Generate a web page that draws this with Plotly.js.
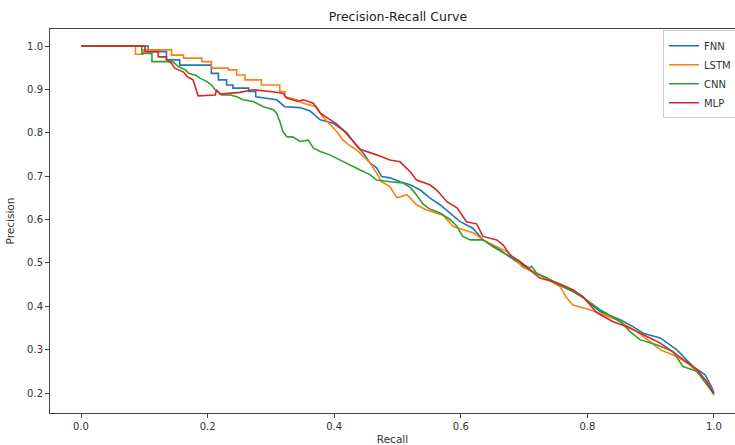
<!DOCTYPE html>
<html>
<head>
<meta charset="utf-8">
<script src="https://cdn.plot.ly/plotly-3.0.1.min.js"></script>
<style>html,body{margin:0;padding:0;background:#fff;}#chart{width:735px;height:445px;}</style>
</head>
<body>
<div id="chart"></div>
<script>
// Series names
const seriesNames = ["FNN", "LSTM", "CNN", "MLP"];

// FNN
const fnnRecall = [0, 0.106, 0.106, 0.135, 0.135, 0.156, 0.156, 0.206, 0.206, 0.217, 0.217, 0.230, 0.230, 0.240, 0.240, 0.265, 0.265, 0.276, 0.276, 0.309, 0.322, 0.346, 0.362, 0.378, 0.398, 0.420, 0.430, 0.446, 0.457, 0.467, 0.475, 0.488, 0.504, 0.520, 0.536, 0.551, 0.567, 0.588, 0.599, 0.619, 0.635, 0.657, 0.688, 0.714, 0.741, 0.773, 0.793, 0.820, 0.852, 0.872, 0.888, 0.915, 0.941, 0.967, 0.986, 0.996, 1.0];
const fnnPrecision = [1.0, 1.0, 0.987, 0.987, 0.968, 0.968, 0.956, 0.956, 0.937, 0.937, 0.922, 0.922, 0.910, 0.910, 0.903, 0.903, 0.895, 0.895, 0.883, 0.876, 0.860, 0.858, 0.850, 0.830, 0.822, 0.800, 0.780, 0.753, 0.730, 0.719, 0.699, 0.696, 0.687, 0.680, 0.668, 0.650, 0.634, 0.607, 0.595, 0.580, 0.553, 0.535, 0.503, 0.480, 0.461, 0.438, 0.420, 0.388, 0.369, 0.353, 0.338, 0.327, 0.300, 0.261, 0.242, 0.215, 0.200];

// LSTM
const lstmRecall = [0, 0.086, 0.086, 0.098, 0.098, 0.143, 0.143, 0.162, 0.162, 0.191, 0.191, 0.206, 0.206, 0.233, 0.233, 0.246, 0.246, 0.259, 0.259, 0.285, 0.285, 0.314, 0.314, 0.322, 0.322, 0.341, 0.351, 0.372, 0.382, 0.393, 0.404, 0.414, 0.425, 0.436, 0.446, 0.457, 0.467, 0.475, 0.488, 0.499, 0.515, 0.530, 0.546, 0.572, 0.578, 0.588, 0.620, 0.635, 0.673, 0.688, 0.698, 0.720, 0.757, 0.767, 0.777, 0.804, 0.846, 0.878, 0.915, 0.941, 0.962, 0.988, 1.0];
const lstmPrecision = [1.0, 1.0, 0.981, 0.981, 0.991, 0.991, 0.979, 0.979, 0.972, 0.972, 0.964, 0.964, 0.949, 0.949, 0.945, 0.945, 0.933, 0.933, 0.922, 0.922, 0.910, 0.910, 0.895, 0.895, 0.883, 0.876, 0.868, 0.860, 0.837, 0.820, 0.803, 0.783, 0.770, 0.760, 0.745, 0.730, 0.707, 0.687, 0.676, 0.650, 0.657, 0.634, 0.622, 0.610, 0.600, 0.584, 0.569, 0.553, 0.526, 0.503, 0.490, 0.476, 0.445, 0.420, 0.403, 0.392, 0.369, 0.342, 0.300, 0.284, 0.265, 0.227, 0.195];

// CNN
const cnnRecall = [0, 0.096, 0.096, 0.112, 0.112, 0.145, 0.154, 0.165, 0.170, 0.182, 0.188, 0.199, 0.206, 0.212, 0.222, 0.236, 0.246, 0.256, 0.272, 0.288, 0.304, 0.309, 0.314, 0.319, 0.325, 0.335, 0.346, 0.359, 0.367, 0.378, 0.393, 0.409, 0.425, 0.441, 0.457, 0.467, 0.488, 0.509, 0.520, 0.530, 0.540, 0.551, 0.567, 0.583, 0.594, 0.603, 0.615, 0.635, 0.651, 0.673, 0.694, 0.709, 0.712, 0.720, 0.736, 0.761, 0.788, 0.820, 0.852, 0.867, 0.883, 0.909, 0.935, 0.951, 0.973, 0.988, 0.996, 1.0];
const cnnPrecision = [1.0, 1.0, 0.983, 0.983, 0.964, 0.964, 0.952, 0.945, 0.937, 0.932, 0.926, 0.918, 0.910, 0.899, 0.887, 0.887, 0.883, 0.876, 0.872, 0.860, 0.853, 0.845, 0.826, 0.803, 0.791, 0.790, 0.780, 0.783, 0.765, 0.757, 0.749, 0.737, 0.726, 0.714, 0.703, 0.691, 0.687, 0.684, 0.674, 0.657, 0.636, 0.624, 0.615, 0.600, 0.584, 0.561, 0.553, 0.553, 0.537, 0.518, 0.500, 0.488, 0.492, 0.476, 0.465, 0.445, 0.426, 0.392, 0.365, 0.342, 0.323, 0.311, 0.296, 0.261, 0.250, 0.219, 0.204, 0.197];

// MLP
const mlpRecall = [0, 0.101, 0.101, 0.122, 0.122, 0.135, 0.135, 0.143, 0.148, 0.162, 0.168, 0.177, 0.185, 0.212, 0.214, 0.220, 0.251, 0.272, 0.299, 0.319, 0.325, 0.343, 0.351, 0.367, 0.378, 0.388, 0.404, 0.415, 0.430, 0.441, 0.467, 0.488, 0.504, 0.520, 0.530, 0.551, 0.562, 0.578, 0.594, 0.609, 0.625, 0.635, 0.657, 0.667, 0.678, 0.694, 0.709, 0.725, 0.752, 0.777, 0.793, 0.815, 0.840, 0.862, 0.899, 0.915, 0.930, 0.951, 0.973, 0.988, 0.999];
const mlpPrecision = [1.0, 1.0, 0.987, 0.987, 0.975, 0.975, 0.970, 0.960, 0.949, 0.940, 0.929, 0.922, 0.885, 0.887, 0.899, 0.889, 0.893, 0.899, 0.895, 0.891, 0.880, 0.872, 0.876, 0.868, 0.845, 0.835, 0.820, 0.805, 0.780, 0.762, 0.749, 0.737, 0.733, 0.710, 0.691, 0.680, 0.668, 0.641, 0.627, 0.595, 0.590, 0.561, 0.553, 0.541, 0.518, 0.503, 0.484, 0.465, 0.454, 0.438, 0.422, 0.385, 0.365, 0.353, 0.327, 0.315, 0.300, 0.277, 0.254, 0.227, 0.200];

const colors = ["#1f77b4", "#ff7f0e", "#2ca02c", "#d62728"];
const xs = [fnnRecall, lstmRecall, cnnRecall, mlpRecall];
const ys = [fnnPrecision, lstmPrecision, cnnPrecision, mlpPrecision];

const xTicks = [0.0, 0.2, 0.4, 0.6, 0.8, 1.0];
const xTickText = ["0.0", "0.2", "0.4", "0.6", "0.8", "1.0"];
const yTicks = [0.2, 0.3, 0.4, 0.5, 0.6, 0.7, 0.8, 0.9, 1.0];
const yTickText = ["0.2", "0.3", "0.4", "0.5", "0.6", "0.7", "0.8", "0.9", "1.0"];

const traces = seriesNames.map((n, i) => ({
  x: xs[i], y: ys[i], name: n, type: "scatter", mode: "lines",
  line: {color: colors[i], width: 1.6}
}));

const font = {family: "DejaVu Sans, sans-serif", size: 10, color: "#333"};
const layout = {
  width: 735, height: 445,
  margin: {l: 50, r: 0, t: 29, b: 32, autoexpand: false},
  paper_bgcolor: "#fff", plot_bgcolor: "#fff",
  font: font,
  showlegend: true,
  title: {text: "Precision-Recall Curve", font: {family: "DejaVu Sans, sans-serif", size: 12.5, color: "#222"},
          xref: "paper", x: 0.508, xanchor: "center", yref: "container", y: 0.962, yanchor: "middle"},
  xaxis: {
    range: [-0.049, 1.0332], showgrid: false, zeroline: false,
    tickvals: xTicks, ticktext: xTickText,
    ticks: "outside", ticklen: 4, tickcolor: "#444", tickwidth: 1,
    showline: true, linecolor: "#444", linewidth: 1, mirror: true,
    tickfont: font, automargin: false,
    title: {text: "Recall", font: {family: "DejaVu Sans, sans-serif", size: 10.5, color: "#333"}, standoff: 4}
  },
  yaxis: {
    range: [0.1539, 1.0392], showgrid: false, zeroline: false,
    tickvals: yTicks, ticktext: yTickText,
    ticks: "outside", ticklen: 4, tickcolor: "#444", tickwidth: 1,
    showline: true, linecolor: "#444", linewidth: 1, mirror: false,
    tickfont: font, automargin: false,
    title: {text: "Precision", font: {family: "DejaVu Sans, sans-serif", size: 10.5, color: "#333"}, standoff: 10}
  },
  legend: {
    xref: "container", yref: "container",
    x: 0.902, y: 0.932, xanchor: "left", yanchor: "top",
    bgcolor: "rgba(255,255,255,0.9)", bordercolor: "#d0d0d0", borderwidth: 1,
    font: {family: "DejaVu Sans, sans-serif", size: 10, color: "#333"},
    itemwidth: 30, tracegroupgap: 0
  }
};

Plotly.newPlot("chart", traces, layout, {staticPlot: true, displayModeBar: false});
</script>
</body>
</html>
